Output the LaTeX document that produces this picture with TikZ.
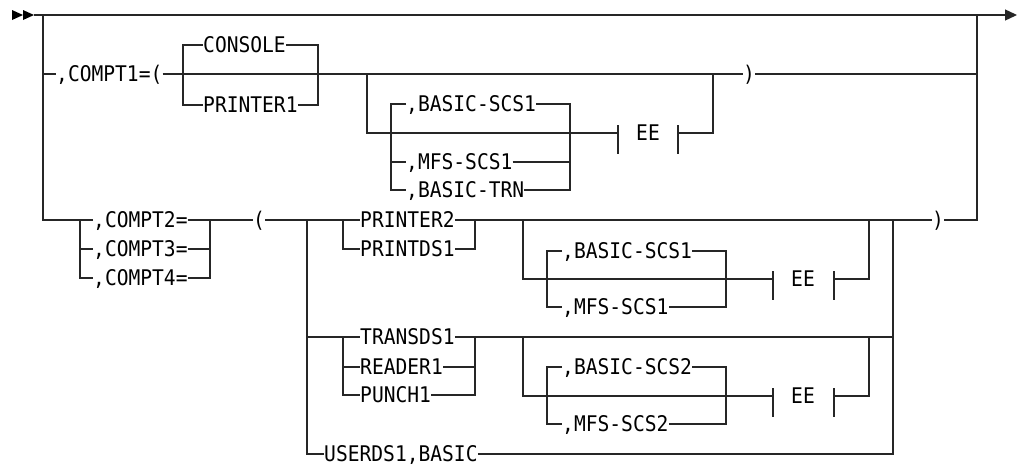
\documentclass[tikz,border=0pt]{standalone}
\usepackage{fontspec}
\usepackage{graphicx}
\newfontfamily\rrfont{DejaVu Sans Mono}
\usetikzlibrary{arrows.meta}
\newcommand\rrtx[1]{\scalebox{1}[1.1]{#1}}
\tikzset{
  rr/.style={line width=1.3pt, line join=miter, draw=black!85},
  lbl/.style={font=\rrfont\fontsize{19.6}{22}\selectfont, inner xsep=0pt, inner ysep=0pt,
    text height=15.7pt, text depth=0pt, anchor=west},
  ctr/.style={lbl, anchor=center},
}
\begin{document}
\begin{tikzpicture}[x=1pt,y=-1pt]
\useasboundingbox (0,0) rectangle (1022,464);
% start / end
\fill (12,10) -- (23,15) -- (12,20) -- cycle;
\fill (23,10) -- (34,15) -- (23,20) -- cycle;
\coordinate (s) at (34,15);
\coordinate (e) at (1017,15);
\draw[rr,-{Triangle[length=12pt,width=11pt]}] (s) -- (e);

% labels
\node[lbl] (c1) at (56,74) {\rrtx{,COMPT1=(}};
\node[lbl] (console) at (203,45) {\rrtx{CONSOLE}};
\node[lbl] (printer1) at (203,105) {\rrtx{PRINTER1}};
\node[lbl] (b1) at (406,104) {\rrtx{,BASIC-SCS1}};
\node[lbl] (m1) at (406,162) {\rrtx{,MFS-SCS1}};
\node[lbl] (t1) at (406,190) {\rrtx{,BASIC-TRN}};
\node[ctr] (ee1) at (648,133) {\rrtx{EE}};
\node[ctr] (rp1) at (749,74) {\rrtx{)}};
\node[lbl] (c2) at (93,220) {\rrtx{,COMPT2=}};
\node[lbl] (c3) at (93,249) {\rrtx{,COMPT3=}};
\node[lbl] (c4) at (93,278) {\rrtx{,COMPT4=}};
\node[ctr] (lp) at (259,220) {\rrtx{(}};
\node[lbl] (p2) at (360,220) {\rrtx{PRINTER2}};
\node[lbl] (pd) at (360,249) {\rrtx{PRINTDS1}};
\node[lbl] (b2) at (562,251) {\rrtx{,BASIC-SCS1}};
\node[lbl] (m2) at (562,307) {\rrtx{,MFS-SCS1}};
\node[ctr] (ee2) at (803,279) {\rrtx{EE}};
\node[lbl] (tr) at (360,337) {\rrtx{TRANSDS1}};
\node[lbl] (rd) at (360,367) {\rrtx{READER1}};
\node[lbl] (pu) at (360,395) {\rrtx{PUNCH1}};
\node[lbl] (b3) at (562,367) {\rrtx{,BASIC-SCS2}};
\node[lbl] (m3) at (562,424) {\rrtx{,MFS-SCS2}};
\node[ctr] (ee3) at (803,396) {\rrtx{EE}};
\node[lbl] (us) at (324,454) {\rrtx{USERDS1,BASIC}};
\node[ctr] (rp2) at (938,220) {\rrtx{)}};

% outer left / right
\draw[rr] (43,15) -- (43,220) -- (c2.west);
\draw[rr] (43,74) -- (c1.west);
\draw[rr] (c1.east) -- (rp1.west);
\draw[rr] (rp1.east) -- (977,74);
\draw[rr] (977,15) -- (977,220) -- (rp2.east);

% CONSOLE / PRINTER1
\draw[rr] (console.west) -- (183,45) -- (183,105) -- (printer1.west);
\draw[rr] (console.east) -- (318,45) -- (318,105) -- (printer1.east);

% EE group 1
\draw[rr] (367,74) -- (367,133) -- (618,133);
\draw[rr] (b1.west) -- (391,104) -- (391,190) -- (t1.west);
\draw[rr] (391,162) -- (m1.west);
\draw[rr] (b1.east) -- (570,104) -- (570,190) -- (t1.east);
\draw[rr] (m1.east) -- (570,162);
\draw[rr] (618,125) -- (618,154);
\draw[rr] (678,125) -- (678,154);
\draw[rr] (678,133) -- (713,133) -- (713,74);

% COMPT2/3/4
\draw[rr] (c2.west) -- (80,220) -- (80,278) -- (c4.west);
\draw[rr] (80,249) -- (c3.west);
\draw[rr] (c2.east) -- (lp.west);
\draw[rr] (c4.east) -- (210,278) -- (210,220);
\draw[rr] (c3.east) -- (210,249);
\draw[rr] (lp.east) -- (p2.west);

% group
\draw[rr] (307,220) -- (307,454) -- (us.west);
\draw[rr] (us.east) -- (893,454) -- (893,220);
\draw[rr] (p2.east) -- (rp2.west);

% PRINTER2 / PRINTDS1
\draw[rr] (343,220) -- (343,249) -- (pd.west);
\draw[rr] (pd.east) -- (475,249) -- (475,220);

% EE group 2
\draw[rr] (523,220) -- (523,279) -- (773,279);
\draw[rr] (b2.west) -- (547,251) -- (547,307) -- (m2.west);
\draw[rr] (b2.east) -- (726,251) -- (726,307) -- (m2.east);
\draw[rr] (773,271) -- (773,300);
\draw[rr] (834,271) -- (834,300);
\draw[rr] (834,279) -- (869,279) -- (869,220);

% TRANSDS1 / READER1 / PUNCH1
\draw[rr] (307,337) -- (tr.west);
\draw[rr] (tr.east) -- (893,337);
\draw[rr] (343,337) -- (343,395) -- (pu.west);
\draw[rr] (343,367) -- (rd.west);
\draw[rr] (pu.east) -- (475,395) -- (475,337);
\draw[rr] (rd.east) -- (475,367);

% EE group 3
\draw[rr] (523,337) -- (523,396) -- (773,396);
\draw[rr] (b3.west) -- (547,367) -- (547,424) -- (m3.west);
\draw[rr] (b3.east) -- (726,367) -- (726,424) -- (m3.east);
\draw[rr] (773,388) -- (773,417);
\draw[rr] (834,388) -- (834,417);
\draw[rr] (834,396) -- (869,396) -- (869,337);
\end{tikzpicture}
\end{document}
